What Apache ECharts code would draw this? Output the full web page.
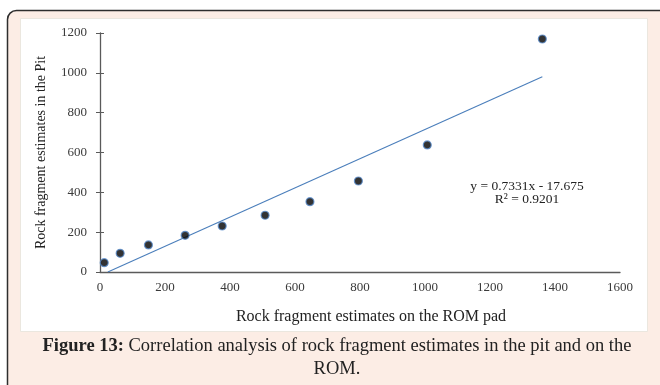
<!DOCTYPE html>
<html>
<head>
<meta charset="utf-8">
<script src="https://cdn.jsdelivr.net/npm/echarts@6/dist/echarts.min.js"></script>
<style>
  html, body { margin: 0; padding: 0; background: #ffffff; }
  #chart { width: 660px; height: 385px; }
</style>
</head>
<body>
<div id="chart"></div>
<script>
// ROM pad estimates (x) against pit estimates (y)
const romPad = [13, 62, 149, 262, 376, 508, 646, 795, 1007, 1361];
const pit = [47, 94, 136, 184, 231, 285, 353, 457, 638, 1170];

// linear trendline as reported on the chart
const slope = 0.7331;
const intercept = -17.675;
const rSquared = 0.9201;

const xTicks = [0, 200, 400, 600, 800, 1000, 1200, 1400, 1600];
const yTicks = [0, 200, 400, 600, 800, 1000, 1200];

const xTitle = 'Rock fragment estimates on the ROM pad';
const yTitle = 'Rock fragment estimates in the Pit';
const captionBold = 'Figure 13:';
const captionLine1 = ' Correlation analysis of rock fragment estimates in the pit and on the';
const captionLine2 = 'ROM.';

const trendStart = Math.max(romPad[0], -intercept / slope);
const trendEnd = romPad[romPad.length - 1];
const trend = [
  [trendStart, slope * trendStart + intercept],
  [trendEnd, slope * trendEnd + intercept]
];

const serif = '"Liberation Serif", "DejaVu Serif", serif';
const axisColor = '#5a5a5a';
const labelColor = '#3a3a3a';
const plain = v => String(v);

const chart = echarts.init(document.getElementById('chart'), null, { renderer: 'canvas' });

chart.setOption({
  animation: false,
  backgroundColor: '#ffffff',
  grid: { left: 100, top: 33, width: 520, height: 239, containLabel: false },
  xAxis: {
    type: 'value',
    min: xTicks[0],
    max: xTicks[xTicks.length - 1],
    interval: xTicks[1] - xTicks[0],
    axisLine: { show: true, lineStyle: { color: axisColor, width: 1.3 } },
    axisTick: { show: false },
    splitLine: { show: false },
    axisLabel: { color: labelColor, fontFamily: serif, fontSize: 13, margin: 9, formatter: plain },
    name: xTitle,
    nameLocation: 'middle',
    nameGap: 37,
    nameTextStyle: { color: '#222', fontFamily: serif, fontSize: 16, padding: [0, 0, 0, 22] }
  },
  yAxis: [
    {
      type: 'value',
      min: yTicks[0],
      max: yTicks[yTicks.length - 1],
      interval: yTicks[1] - yTicks[0],
      axisLine: { show: true, lineStyle: { color: axisColor, width: 1.3 } },
      axisTick: { show: true, length: 4, lineStyle: { color: axisColor, width: 1 } },
      splitLine: { show: false },
      axisLabel: { color: labelColor, fontFamily: serif, fontSize: 13, margin: 13, formatter: plain },
      name: yTitle,
      nameLocation: 'middle',
      nameGap: 52,
      nameTextStyle: { color: '#222', fontFamily: serif, fontSize: 14 }
    },
    {
      // inner half of the crossing tick marks
      type: 'value',
      position: 'left',
      min: yTicks[0],
      max: yTicks[yTicks.length - 1],
      interval: yTicks[1] - yTicks[0],
      axisLine: { show: false },
      axisTick: { show: true, inside: true, length: 4, lineStyle: { color: axisColor, width: 1 } },
      axisLabel: { show: false },
      splitLine: { show: false }
    }
  ],
  series: [
    {
      type: 'line',
      data: trend,
      symbol: 'none',
      lineStyle: { color: '#4a7ebb', width: 1.1 },
      z: 2,
      silent: true
    },
    {
      type: 'scatter',
      data: romPad.map((x, i) => [x, pit[i]]),
      symbol: 'circle',
      symbolSize: 8,
      itemStyle: { color: '#000000', borderColor: '#5b8fd0', borderWidth: 1.2 },
      z: 3
    }
  ],
  graphic: [
    {
      type: 'rect',
      z: -20,
      shape: { x: 7.5, y: 10.5, width: 720, height: 420, r: 9 },
      style: { fill: '#fcede5', stroke: '#2e2e2e', lineWidth: 1.5 }
    },
    {
      type: 'rect',
      z: -10,
      shape: { x: 20.5, y: 18.5, width: 627, height: 313 },
      style: { fill: '#ffffff', stroke: '#ebe7df', lineWidth: 1 }
    },
    {
      type: 'text',
      z: 10,
      x: 527,
      y: 193,
      style: {
        text: 'y = ' + slope + 'x - ' + Math.abs(intercept) + '\nR\u00b2 = ' + rSquared,
        fill: '#222',
        font: '13.5px ' + serif,
        align: 'center',
        verticalAlign: 'middle',
        lineHeight: 13
      }
    },
    {
      type: 'text',
      z: 10,
      x: 337,
      y: 346,
      style: {
        text: '{b|' + captionBold + '}{n|' + captionLine1 + '}',
        align: 'center',
        verticalAlign: 'middle',
        rich: {
          b: { fontFamily: serif, fontSize: 18.5, fontWeight: 'bold', fill: '#222' },
          n: { fontFamily: serif, fontSize: 18.5, fill: '#222' }
        }
      }
    },
    {
      type: 'text',
      z: 10,
      x: 337,
      y: 369,
      style: {
        text: captionLine2,
        fill: '#222',
        font: '18.5px ' + serif,
        align: 'center',
        verticalAlign: 'middle'
      }
    }
  ]
});
</script>
</body>
</html>
